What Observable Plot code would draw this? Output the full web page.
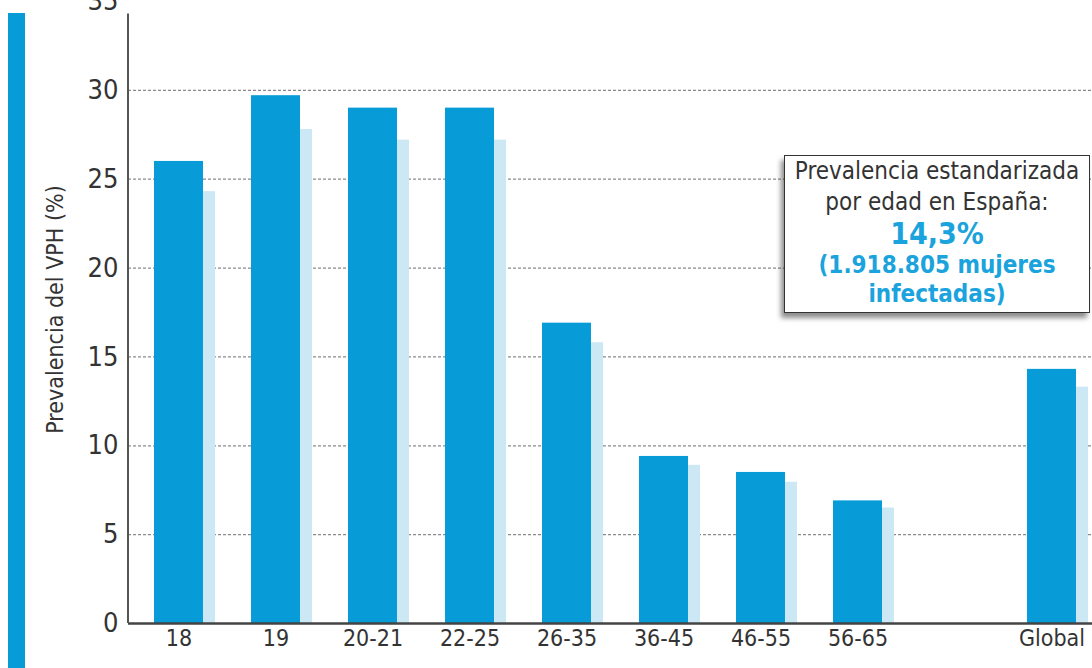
<!DOCTYPE html>
<html><head><meta charset="utf-8">
<script src="https://cdn.jsdelivr.net/npm/d3@7"></script>
<script src="https://cdn.jsdelivr.net/npm/@observablehq/plot@0.6"></script>
<style>
body{margin:0;background:#fff;}
#wrap{position:relative;width:1092px;height:668px;overflow:hidden;font-family:"DejaVu Sans Condensed","Liberation Sans Narrow",sans-serif;}
#stripe{position:absolute;left:8px;top:13px;width:17px;height:655px;background:#079cd8;}
#note{position:absolute;left:784px;top:155px;width:306px;height:158px;box-sizing:border-box;border:1.5px solid #333;background:#fff;box-shadow:-3px 5px 5px rgba(0,0,0,0.45);text-align:center;}
#note div{position:absolute;left:0;right:0;white-space:nowrap;}
</style></head>
<body>
<div id="wrap">
<div id="chart"></div>
<div id="stripe"></div>
<div id="note">
  <div style="top:1px;font-size:24px;color:#333;">Prevalencia estandarizada</div>
  <div style="top:32px;font-size:24px;color:#333;">por edad en España:</div>
  <div style="top:60px;font-size:30px;color:#1aa3dc;font-weight:bold;">14,3%</div>
  <div style="top:95px;font-size:24px;color:#1aa3dc;font-weight:bold;">(1.918.805 mujeres</div>
  <div style="top:124px;font-size:24px;color:#1aa3dc;font-weight:bold;">infectadas)</div>
</div>
</div>
<script>
const categories = ["18","19","20-21","22-25","26-35","36-45","46-55","56-65","Global"];
const prevalence = [26, 29.7, 29, 29, 16.9, 9.4, 8.5, 6.9, 14.3];
const shadowValues = [24.3, 27.8, 27.2, 27.2, 15.8, 8.9, 7.95, 6.5, 13.3];
const yTicks = [0, 5, 10, 15, 20, 25, 30, 35];
const gridTicks = [5, 10, 15, 20, 25, 30];
const yLabel = "Prevalencia del VPH (%)";

const domain = [...categories.slice(0, 8), " ", "Global"];
const rows = categories.map((c, i) => ({cat: c, v: prevalence[i], s: shadowValues[i]}));
const font = '"DejaVu Sans Condensed","Liberation Sans Narrow",sans-serif';

const yAxisLine = (index, scales, values, dims) => {
  const ns = "http://www.w3.org/2000/svg";
  const l = document.createElementNS(ns, "line");
  l.setAttribute("x1", dims.marginLeft);
  l.setAttribute("x2", dims.marginLeft);
  l.setAttribute("y1", scales.y(34.3));
  l.setAttribute("y2", scales.y(0));
  l.setAttribute("stroke", "#555");
  l.setAttribute("stroke-width", 2);
  return l;
};

const chart = Plot.plot({
  width: 1092,
  height: 668,
  marginLeft: 128,
  marginRight: 0,
  marginTop: 1,
  marginBottom: 45,
  style: {fontFamily: font, background: "transparent", overflow: "visible"},
  x: {domain, range: [128, 1102.5], paddingInner: 0.497, paddingOuter: 0.246, label: null},
  y: {domain: [0, 35], label: null},
  marks: [
    Plot.ruleY(gridTicks, {stroke: "#8a8a8a", strokeWidth: 1.2, strokeDasharray: "3,2"}),
    Plot.barY(rows, {x: "cat", y: "s", fill: "#cde8f5", dx: 12}),
    Plot.barY(rows, {x: "cat", y: "v", fill: "#079cd8"}),
    Plot.ruleY([0], {stroke: "#444", strokeWidth: 2.5}),
    yAxisLine,
    Plot.axisY({ticks: yTicks, tickSize: 0, tickPadding: 10, fontSize: 27, color: "#333", label: null}),
    Plot.axisX({tickSize: 0, tickPadding: 6, fontSize: 23, color: "#333", label: null, tickFormat: d => d.trim()}),
    Plot.text([yLabel], {frameAnchor: "left", textAnchor: "middle", dx: -73, dy: -3, rotate: -90, fontSize: 23, fill: "#333"})
  ]
});
document.getElementById("chart").appendChild(chart);
</script>
</body></html>
